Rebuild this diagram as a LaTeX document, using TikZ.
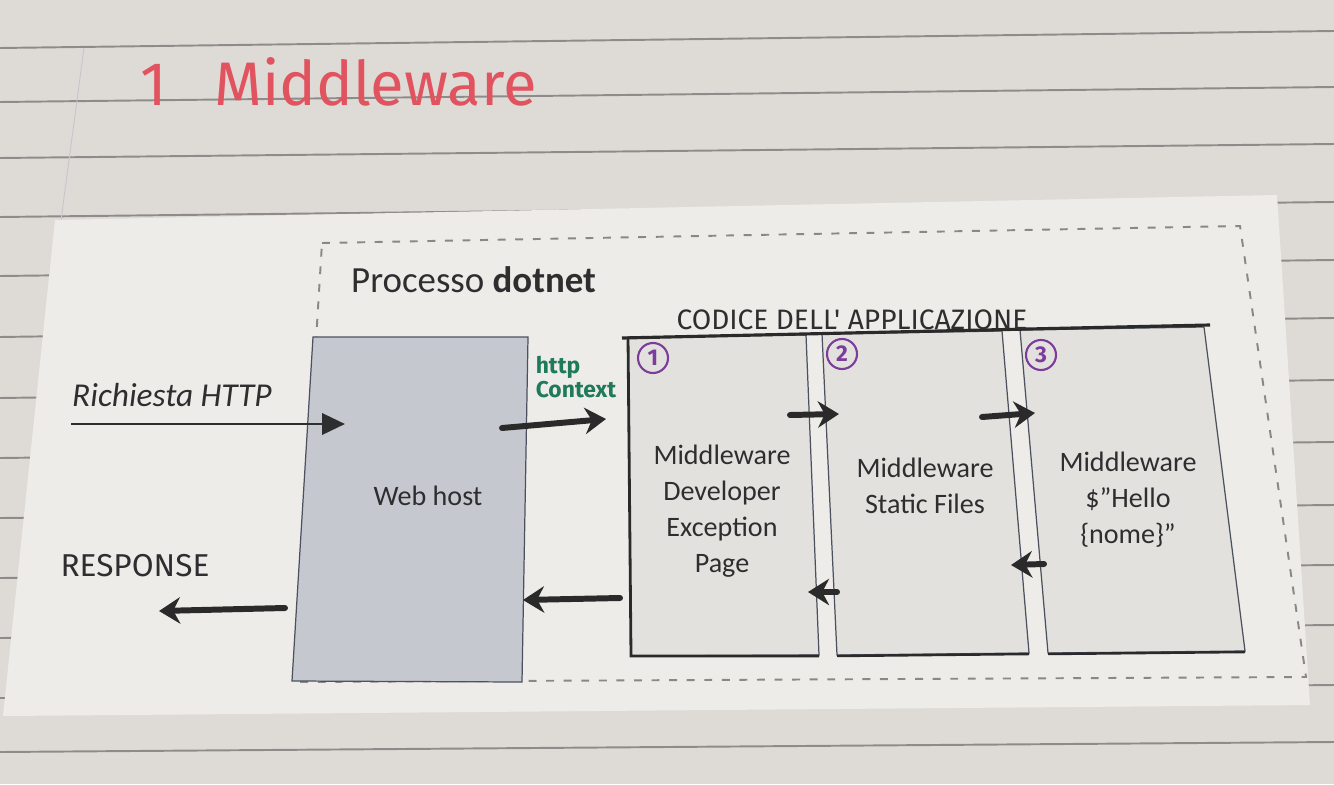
\documentclass[tikz,border=0pt]{standalone}
\usepackage{fontspec}
\setmainfont{Carlito}
\newfontfamily\handfont{Fira Sans}
\usetikzlibrary{arrows.meta}
\definecolor{Desk}{HTML}{DEDBD7}
\definecolor{Sheet}{HTML}{EEECE8}
\definecolor{Rule}{HTML}{8E8C8A}
\definecolor{Margin}{HTML}{C4C6CC}
\definecolor{Dash}{HTML}{8A8886}
\definecolor{Ink}{HTML}{2E2E30}
\definecolor{BoxLine}{HTML}{4C5160}
\definecolor{BoxFill}{HTML}{E3E1DD}
\definecolor{HostFill}{HTML}{C6C8CF}
\definecolor{Marker}{HTML}{2A2A2A}
\definecolor{Title}{HTML}{E0535F}
\definecolor{Violet}{HTML}{7B3C9C}
\definecolor{Pen}{HTML}{1F7A5A}
\tikzset{
  ruled/.style={draw=Rule,line width=1.1pt},
  printbox/.style={draw=BoxLine,line width=0.7pt,fill=BoxFill},
  hostbox/.style={printbox,fill=HostFill},
  boxtext/.style={font=\fontsize{16}{20.5}\selectfont,align=center,text=Ink},
  marker/.style={draw=Marker,line width=3.4pt,line cap=round,-{Stealth[length=12pt,width=15pt]}},
  handnum/.style={circle,draw=Violet,line width=1.2pt,text=Violet,inner sep=0pt,minimum size=0.6cm,font=\handfont\fontsize{13}{14}\selectfont\bfseries},
  handtext/.style={inner sep=0pt,text=Ink}
}

\begin{document}
\begin{tikzpicture}[x=0.02cm,y=-0.02cm]
  \useasboundingbox (0,0) rectangle (1334,784);
  \fill[Desk] (0,0) rectangle (1334,784);

  % quaderno a righe
  \foreach \l/\r in {48/31,102/87,158/144,217/202,276/260,337/318,398/380,458/442,518/505,578/565,638/625,698/685,752/742}
    \draw[ruled] (0,\l) -- (1334,\r);
  \draw[Margin,line width=0.5pt] (84,48) -- (61,220);
  \node[anchor=base west,font=\handfont\fontsize{35}{38}\selectfont,text=Title] (title) at (134,106) {1\hspace{0.95cm}Middleware};

  % foglio incollato
  \fill[Sheet] (55,220) -- (1277,195) -- (1310,705) -- (3,716) -- cycle;

  % processo dotnet
  \draw[Dash,line width=1.1pt,dash pattern=on 4.5pt off 5.5pt] (322,243) -- (1240,226) -- (1306,677) -- (295,682) -- cycle;
  \node[anchor=base west,font=\fontsize{21}{25}\selectfont,text=Ink] (proc) at (345,292) {Processo \textbf{dotnet}};

  % web host
  \path[hostbox] (313,337) -- (528,337) -- (522,682) -- (292,681) -- cycle;
  \node[boxtext] (host) at (428,496) {Web host};

  % middleware
  \path[printbox] (628,337) -- (806,335) -- (819,655) -- (631,656) -- cycle;
  \path[printbox] (822,334) -- (1002,331) -- (1029,653) -- (837,655) -- cycle;
  \path[printbox] (1020,330) -- (1204,327) -- (1245,651) -- (1048,653) -- cycle;
  \draw[Marker,line width=1.8pt] (622,338) -- (1210,325);
  \draw[Marker,line width=1.6pt] (628,337) -- (631,656) -- (819,656);
  \draw[Marker,line width=1.4pt] (837,656) -- (1029,654) (1048,654) -- (1245,652);
  \node[boxtext] (mwA) at (722,511) {Middleware\\Developer\\Exception\\Page};
  \node[boxtext] (mwB) at (925,486) {Middleware\\Static Files};
  \node[boxtext] (mwC) at (1128,500) {Middleware\\\$''Hello\\\{nome\}''};
  \node[handnum] (n1) at (653,358) {1};
  \node[handnum] (n2) at (842,354) {2};
  \node[handnum] (n3) at (1041,355) {3};

  % scritte a mano
  \node[handtext,text=Pen,align=left,font=\handfont\bfseries\fontsize{13}{14}\selectfont] (ctx) at (576,377) {http\\Context};
  \node[handtext,font=\handfont\fontsize{16}{17}\selectfont] (code) at (852,320) {CODICE DELL' APPLICAZIONE};
  \node[handtext,font=\handfont\fontsize{18}{19}\selectfont] (resp) at (135,566) {RESPONSE};
  \node[handtext,font=\itshape\fontsize{19}{22}\selectfont] (req) at (172,395) {Richiesta HTTP};

  % frecce
  \coordinate (reqS) at (71,424);
  \coordinate (reqE) at (345,424);
  \draw[Ink,line width=1.7pt,-{Triangle[length=13pt,width=12pt]}] (reqS) -- (reqE);
  \coordinate (ctxS) at (502,428);  \coordinate (ctxE) at (606,419);
  \coordinate (abS) at (790,415);   \coordinate (abE) at (839,414);
  \coordinate (bcS) at (982,417);   \coordinate (bcE) at (1035,413);
  \coordinate (cbS) at (1044,564);  \coordinate (cbE) at (1011,565);
  \coordinate (baS) at (837,592);   \coordinate (baE) at (808,592);
  \coordinate (ahS) at (620,598);   \coordinate (ahE) at (523,600);
  \coordinate (hrS) at (285,608);   \coordinate (hrE) at (159,611);
  \foreach \a/\b in {ctxS/ctxE,abS/abE,bcS/bcE,cbS/cbE,baS/baE,ahS/ahE,hrS/hrE}
    \draw[marker] (\a) -- (\b);
\end{tikzpicture}
\end{document}
